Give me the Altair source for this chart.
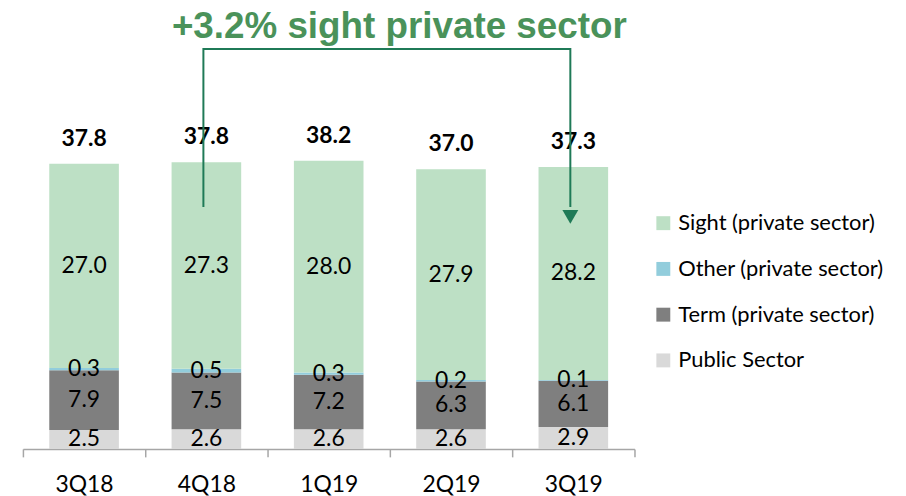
import altair as alt
import pandas as pd

# ---- data ----
quarters = ["3Q18", "4Q18", "1Q19", "2Q19", "3Q19"]
public_sector = [2.5, 2.6, 2.6, 2.6, 2.9]
term_private = [7.9, 7.5, 7.2, 6.3, 6.1]
other_private = [0.3, 0.5, 0.3, 0.2, 0.1]
sight_private = [27.0, 27.3, 28.0, 27.9, 28.2]
totals = [37.8, 37.8, 38.2, 37.0, 37.3]

series = ["Public Sector", "Term (private sector)", "Other (private sector)", "Sight (private sector)"]
series_colors = ["#d9d9d9", "#7f7f7f", "#92cddc", "#bde0c5"]

annotation_text = ["+3.2% sight private sector"]
annotation_anchor = ["1Q19"]
annotation_level = [55.8]
arrow_quarters = ["4Q18", "4Q18", "3Q19", "3Q19"]
arrow_levels = [32.0, 52.9, 52.9, 32.0]
arrow_head_quarter = ["3Q19"]
arrow_head_level = [30.7]

# ---- tables ----
values_by_series = [public_sector, term_private, other_private, sight_private]
rows = []
for idx, (name, vals) in enumerate(zip(series, values_by_series)):
    for q, v in zip(quarters, vals):
        rows.append({"q": q, "series": name, "idx": idx, "value": v,
                     "label": f"{v:.1f}"})
df = pd.DataFrame(rows)

sums = [round(a + b + c + d, 2) for a, b, c, d in zip(*values_by_series)]
df_tot = pd.DataFrame({"q": quarters, "top": sums,
                       "label": [f"{t:.1f}" for t in totals]})
df_arrow = pd.DataFrame({"q": arrow_quarters, "y": arrow_levels,
                         "step": list(range(len(arrow_levels)))})
df_head = pd.DataFrame({"q": arrow_head_quarter, "y": arrow_head_level})
df_note = pd.DataFrame({"q": annotation_anchor, "y": annotation_level,
                        "text": annotation_text})

FONT = "Lato"
x_enc = alt.X(
    "q:N",
    sort=quarters,
    scale=alt.Scale(domain=quarters, paddingInner=0, paddingOuter=0),
    axis=alt.Axis(
        title=None, labelAngle=0, tickBand="extent", tickSize=8,
        domainColor="#a6a6a6", tickColor="#a6a6a6", domainWidth=1.5,
        tickWidth=1.5, labelFont=FONT, labelFontSize=23,
        labelColor="#000000", labelPadding=17, grid=False,
    ),
)
y_scale = alt.Scale(domain=[0, 58], nice=False, zero=True)

stacked = alt.Chart(df).transform_stack(
    stack="value", as_=["y0", "y1"], groupby=["q"],
    sort=[alt.SortField("idx", order="ascending")],
).transform_calculate(mid="(datum.y0 + datum.y1) / 2")

bars = stacked.mark_bar(size=70).encode(
    x=x_enc,
    y=alt.Y("y0:Q", scale=y_scale, axis=None),
    y2="y1:Q",
    color=alt.Color(
        "series:N",
        scale=alt.Scale(domain=series[::-1], range=series_colors[::-1]),
        legend=alt.Legend(
            title=None, orient="none", legendX=633, legendY=203,
            labelFont=FONT, labelFontSize=22, labelColor="#000000",
            labelLimit=400,
            symbolType="square", symbolSize=196, symbolStrokeWidth=0,
            symbolOpacity=1, rowPadding=24, labelOffset=4, padding=0,
        ),
    ),
)

seg_labels = stacked.mark_text(
    font=FONT, fontSize=23, color="#000000", baseline="middle"
).encode(
    x=alt.X("q:N", sort=quarters),
    y=alt.Y("mid:Q", scale=y_scale, axis=None),
    text="label:N",
)

total_labels = alt.Chart(df_tot).mark_text(
    font=FONT, fontSize=23, fontWeight="bold", color="#000000",
    baseline="middle", dy=-25,
).encode(
    x=alt.X("q:N", sort=quarters),
    y=alt.Y("top:Q", scale=y_scale, axis=None),
    text="label:N",
)

arrow = alt.Chart(df_arrow).mark_line(
    color="#1f7a57", strokeWidth=2, xOffset=-3, interpolate="linear"
).encode(
    x=alt.X("q:N", sort=quarters),
    y=alt.Y("y:Q", scale=y_scale, axis=None),
    order="step:Q",
)

arrow_head = alt.Chart(df_head).mark_point(
    shape="triangle-down", filled=True, color="#1f7a57", opacity=1,
    size=256, xOffset=-3,
).encode(
    x=alt.X("q:N", sort=quarters),
    y=alt.Y("y:Q", scale=y_scale, axis=None),
)

note = alt.Chart(df_note).mark_text(
    font="Liberation Sans", fontSize=37, fontWeight="bold",
    color="#4a925a", baseline="middle", dx=71,
).encode(
    x=alt.X("q:N", sort=quarters),
    y=alt.Y("y:Q", scale=y_scale, axis=None),
    text="text:N",
)

chart = alt.layer(bars, seg_labels, total_labels, arrow, arrow_head, note).properties(
    width=615, height=441,
    autosize=alt.AutoSizeParams(type="none"),
    padding={"left": 15, "top": 1, "right": 265, "bottom": 50},
    background="#ffffff",
).configure_view(stroke=None)

chart.save("out.html", embed_options={"renderer": "svg", "actions": False})
